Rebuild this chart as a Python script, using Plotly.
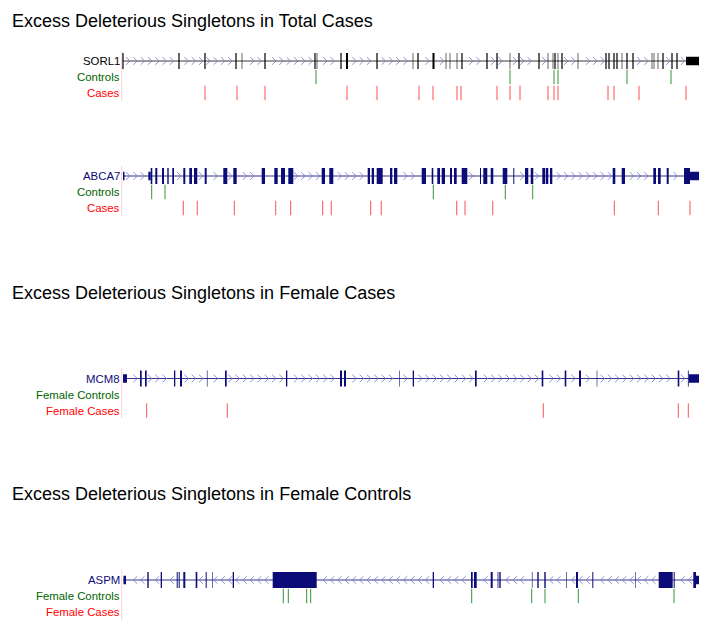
import plotly.graph_objects as go

# The page body has an 8px default margin; the figure is sized/offset to fit the 709x631 window.
PAGE_W, PAGE_H = 709, 631
OFF = 8
W, H = PAGE_W - 2 * OFF, PAGE_H - 2 * OFF
TRACK_LEN = 576  # gene span in track units

# ------------------------------------------------------------------ data
section_titles = [
    "Excess Deleterious Singletons in Total Cases",
    "Excess Deleterious Singletons in Female Cases",
    "Excess Deleterious Singletons in Female Controls",
]
genes = ["SORL1", "ABCA7", "MCM8", "ASPM"]
gene_strand = [1, 1, 1, -1]
row_labels = [
    ["Controls", "Cases"],
    ["Controls", "Cases"],
    ["Female Controls", "Female Cases"],
    ["Female Controls", "Female Cases"],
]

# SORL1
sorl1_exon_start = [-0.6, 55.4, 81.4, 112.4, 118.7, 141.4, 191.4, 193.7, 217.4, 223, 253.4, 289.7,
                    294.4, 309.5, 322.7, 326.7, 333.7, 338.4, 363.4, 373.4, 386.7, 395.4, 415.4,
                    424.7, 429.7, 431.4, 434.7, 438.4, 454.7, 482.4, 485.4, 490.4, 493.4, 498.7,
                    503.4, 509.4, 528.7, 530.7, 534.7, 539.4, 548.4, 553.4]
sorl1_exon_end = [0.6, 56.6, 82.6, 113.6, 119.3, 142.6, 192.6, 194.3, 218.6, 225, 254.6, 290.3,
                  295.6, 311.5, 323.3, 327.3, 334.3, 339.6, 364.6, 374.6, 387.3, 396.6, 416.6,
                  425.3, 430.3, 432.6, 435.3, 439.6, 455.3, 483.6, 486.6, 491.6, 494.6, 499.3,
                  504.6, 510.6, 529.3, 531.3, 535.3, 540.6, 549.6, 554.6]
sorl1_utr_start = [563]
sorl1_utr_end = [576]
sorl1_controls = [193, 387, 431, 435, 504, 548]
sorl1_cases = [82, 114, 142, 224, 254, 296, 310, 334, 338, 374, 387, 397, 425, 431, 435,
               485, 491, 516, 563]

# ABCA7
abca7_exon_start = [27.7, 32.3, 39, 44.3, 49.3, 60.3, 66.3, 71, 81.7, 100.3, 110.3, 138.7, 151.3,
                    158, 165.3, 198.7, 206.3, 244.7, 248.7, 253.7, 267, 271, 298.7, 308.7, 314.3,
                    318.7, 327, 331, 338.7, 357, 360.3, 367.7, 379.7, 390.3, 402, 407.7, 419.3,
                    422.7, 427, 489.7, 498.7, 530.3, 535, 543.7, 561]
abca7_exon_end = [29.3, 34.3, 41, 45.7, 51, 62.3, 69, 74.3, 83.7, 104.3, 113.7, 142, 154.7,
                  162, 170.3, 202, 210.3, 247, 251, 259.7, 269.3, 274.3, 303, 310.3, 317,
                  322, 329, 333.7, 344.3, 358, 364.3, 370.3, 384.3, 391.3, 405.3, 410.3, 422,
                  425.3, 429.3, 492.3, 502, 533, 537.7, 545.7, 567]
abca7_utr_start = [0, 25.3, 567]
abca7_utr_end = [1.5, 27.7, 576]
abca7_controls = [28.7, 42, 310.3, 382.3, 409.7]
abca7_cases = [60.3, 74.3, 111.3, 152.7, 167.7, 199.7, 208.3, 247.7, 258.3, 333.7, 342,
               369.7, 491.3, 535.3, 567]

# MCM8
mcm8_exon_start = [17, 22, 51, 57, 83.9, 102, 163, 217, 221, 276.2, 289.7, 352, 418.7, 441.7,
                   456, 473.7, 554.7, 564.9]
mcm8_exon_end = [18.7, 23.7, 52.3, 59, 84.5, 103.7, 164.3, 219, 223, 276.8, 291, 353.7, 420.3,
                 443.3, 458, 474.3, 556.3, 565.7]
mcm8_utr_start = [0, 565.7]
mcm8_utr_end = [4, 576]
mcm8_controls = []
mcm8_cases = [23.7, 104.3, 420.3, 555.3, 565.3]

# ASPM
aspm_exon_start = [24.3, 37.7, 53.7, 55.7, 60.3, 72.7, 82.7, 89.4, 109.7, 149.7, 309.7, 348, 351,
                   367.7, 374.6, 376.3, 408.9, 414.3, 421.3, 443.4, 453, 469.3, 512, 535.7,
                   550.7, 570.3]
aspm_exon_end = [25.7, 39, 54.7, 56.7, 62.3, 74.3, 83.7, 90, 111, 193.7, 311, 349.7, 353.7,
                 369.7, 375.4, 377.7, 409.5, 415.7, 422.7, 444, 455, 470.3, 512.6, 549.7,
                 551.7, 573]
aspm_utr_start = [0.5, 573]
aspm_utr_end = [3, 576]
aspm_controls = [160.3, 165.3, 183.7, 187.7, 348.7, 408.7, 422, 455.3, 551]
aspm_cases = []

tracks = [
    dict(exs=sorl1_exon_start, exe=sorl1_exon_end, us=sorl1_utr_start, ue=sorl1_utr_end,
         ctrl=sorl1_controls, case=sorl1_cases),
    dict(exs=abca7_exon_start, exe=abca7_exon_end, us=abca7_utr_start, ue=abca7_utr_end,
         ctrl=abca7_controls, case=abca7_cases),
    dict(exs=mcm8_exon_start, exe=mcm8_exon_end, us=mcm8_utr_start, ue=mcm8_utr_end,
         ctrl=mcm8_controls, case=mcm8_cases),
    dict(exs=aspm_exon_start, exe=aspm_exon_end, us=aspm_utr_start, ue=aspm_utr_end,
         ctrl=aspm_controls, case=aspm_cases),
]

# ------------------------------------------------------------------ layout constants (page px)
gene_center_px = [61, 176, 378.5, 580]
title_center_px = [21, 293, 494]
ROW_PX = 16
TOP_PAD = 0.65
BOT = 2.5
FONT = "Liberation Sans, Arial, sans-serif"
NAVY = "#0c0c78"
gene_color = ["#000000", NAVY, NAVY, NAVY]
backbone_color = ["#3a3a3a", "#34348e", "#34348e", "#34348e"]
label_color = ["#000000", NAVY, NAVY, NAVY]
CHEV = "rgba(120,120,200,0.8)"
CTRL_COLOR = "rgba(0,120,0,0.8)"
CASE_COLOR = "rgba(255,20,20,0.75)"


def fx(p):  # page x pixel -> paper fraction
    return (p - OFF) / W


def fy(p):  # page y pixel -> paper fraction
    return 1 - (p - OFF) / H


def chevrons(starts, ends, direction, spacing=7.3, y_half=0.24, half_w=2.0):
    xs, ys = [], []
    blocks = list(zip(starts, ends))
    p = 5.0
    while p < TRACK_LEN - 3:
        if all(p + 2.5 < s or p - 2.5 > e for s, e in blocks):
            back = p - half_w * direction
            tip = p + half_w * direction
            xs += [back, tip, back, None]
            ys += [-y_half, 0, y_half, None]
        p += spacing
    return xs, ys


def ticks(positions, row):
    xs, ys = [], []
    for p in positions:
        xs += [p, p, None]
        ys += [row - 0.45, row + 0.45, None]
    return xs, ys


fig = go.Figure()
shapes = []
annotations = []
layout_axes = {}

for i, (gene, tr) in enumerate(zip(genes, tracks)):
    yname = "y" if i == 0 else f"y{i + 1}"
    ykey = "yaxis" if i == 0 else f"yaxis{i + 1}"
    G = gene_center_px[i]
    top = G - TOP_PAD * ROW_PX
    bottom = G + BOT * ROW_PX
    layout_axes[ykey] = dict(range=[BOT, -TOP_PAD], domain=[fy(bottom), fy(top)],
                             visible=False, anchor="x", fixedrange=True)

    # guide line at left edge
    shapes.append(dict(type="line", xref="x", yref=yname, x0=-1.3, x1=-1.3, y0=-TOP_PAD, y1=BOT,
                       line=dict(color="rgba(255,120,120,0.35)", width=1), layer="below"))

    # backbone
    fig.add_trace(go.Scatter(x=[0, TRACK_LEN], y=[0, 0], mode="lines", xaxis="x", yaxis=yname,
                             line=dict(color=backbone_color[i], width=1), hoverinfo="skip"))
    # chevrons
    cx, cy = chevrons(tr["exs"] + tr["us"], tr["exe"] + tr["ue"], gene_strand[i])
    fig.add_trace(go.Scatter(x=cx, y=cy, mode="lines", xaxis="x", yaxis=yname,
                             line=dict(color=CHEV, width=1), hoverinfo="skip"))
    # exons
    for s, e in zip(tr["exs"], tr["exe"]):
        shapes.append(dict(type="rect", xref="x", yref=yname, x0=s, x1=e, y0=-0.5, y1=0.5,
                           fillcolor=gene_color[i], line=dict(width=0), layer="above"))
    for s, e in zip(tr["us"], tr["ue"]):
        shapes.append(dict(type="rect", xref="x", yref=yname, x0=s, x1=e, y0=-0.27, y1=0.27,
                           fillcolor=gene_color[i], line=dict(width=0), layer="above"))
    # variants
    tx, ty = ticks(tr["ctrl"], 1)
    fig.add_trace(go.Scatter(x=tx, y=ty, mode="lines", xaxis="x", yaxis=yname,
                             line=dict(color=CTRL_COLOR, width=1), hoverinfo="skip"))
    tx, ty = ticks(tr["case"], 2)
    fig.add_trace(go.Scatter(x=tx, y=ty, mode="lines", xaxis="x", yaxis=yname,
                             line=dict(color=CASE_COLOR, width=1), hoverinfo="skip"))

    # labels
    for row, (txt, col) in enumerate([(gene, label_color[i]),
                                      (row_labels[i][0], "#006400"),
                                      (row_labels[i][1], "#ff0000")]):
        annotations.append(dict(text=txt, xref="paper", yref=yname, x=fx(121.5), y=row,
                                xanchor="right", yanchor="middle", showarrow=False,
                                font=dict(family=FONT, size=11.4, color=col)))

for t, ty in zip(section_titles, title_center_px):
    annotations.append(dict(text=t, xref="paper", yref="paper", x=fx(10), y=fy(ty),
                            xanchor="left", yanchor="middle", showarrow=False,
                            font=dict(family=FONT, size=18, color="#000000")))

fig.update_layout(
    width=W, height=H, margin=dict(l=0, r=0, t=0, b=0),
    paper_bgcolor="white", plot_bgcolor="white", showlegend=False,
    xaxis=dict(range=[-3, 577], domain=[fx(120), fx(700)], visible=False, fixedrange=True),
    shapes=shapes, annotations=annotations,
    **layout_axes,
)

fig.write_html("out.html")
